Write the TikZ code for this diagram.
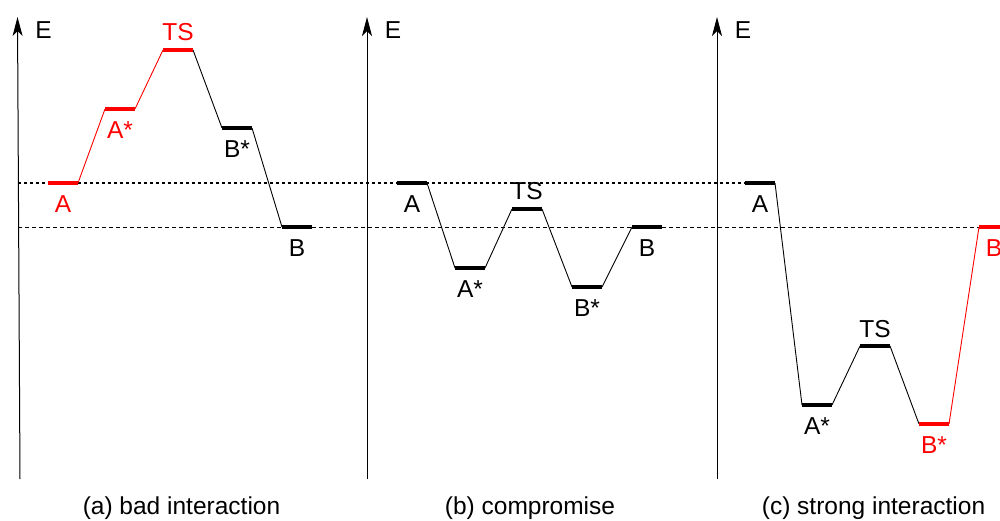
\documentclass[tikz,border=0pt]{standalone}
\usepackage{fontspec}
\setmainfont{Liberation Sans}
\usetikzlibrary{arrows.meta, positioning}
\tikzset{
  asse/.style={line width=1pt,-{Stealth[length=19pt,width=10pt,inset=5pt]}},
  livello/.style={line width=4pt},
  raccordo/.style={line width=0.9pt},
  rifalto/.style={line width=1.2pt,dash pattern=on 3pt off 3pt},
  rifbasso/.style={line width=0.8pt,dash pattern=on 4pt off 3pt},
  etichetta/.style={font=\fontsize{24.5}{29}\selectfont,inner sep=0pt}
}

\begin{document}
\begin{tikzpicture}[x=1pt,y=-1pt]
\clip (0,0) rectangle (1000,521);

% livelli: estremi delle barre
\foreach \n/\x/\y in {
  aA/48/183, aAs/105/109, aTS/163/50, aBs/222/128, aB/282/227,
  bA/397/183, bAs/455/268, bTS/512/209, bBs/572/287, bB/632/227,
  cA/745/183, cAs/802/405, cTS/860/346, cBs/919/424, cB/979/227}{
  \coordinate (\n-l) at (\x,\y);
  \coordinate (\n-r) at (\x+30,\y);
}

% linee di riferimento tratteggiate
\coordinate (rifA) at (18,183);
\coordinate (rifB) at (18,227);
\draw[rifalto] (rifA) -- (cA-l);
\draw[rifbasso] (rifB) -- (cB-l);

% assi dell'energia
\foreach \n/\xb/\xt in {a/20/17.5, b/367/367, c/717/717}{
  \coordinate (\n-base) at (\xb,479);
  \coordinate (\n-cima) at (\xt,17);
  \draw[asse] (\n-base) -- (\n-cima);
  \node[etichetta] (\n-E) at (\xt+26,30.5) {E};
}

% raccordi tra i livelli
\foreach \a/\b/\c in {
  aA/aAs/red, aAs/aTS/red, aTS/aBs/black, aBs/aB/black,
  bA/bAs/black, bAs/bTS/black, bTS/bBs/black, bBs/bB/black,
  cA/cAs/black, cAs/cTS/black, cTS/cBs/black, cBs/cB/red}{
  \draw[raccordo,\c] (\a-r) -- (\b-l);
}

% barre dei livelli con etichetta
\foreach \n/\x/\y/\t/\d/\c in {
  aA/48/183/A/21/red, aAs/105/109/A*/21/red, aTS/163/50/TS/-18/red,
  aBs/222/128/B*/21/black, aB/282/227/B/21/black,
  bA/397/183/A/21/black, bAs/455/268/A*/21/black, bTS/512/209/TS/-17.5/black,
  bBs/572/287/B*/21/black, bB/632/227/B/21/black,
  cA/745/183/A/21/black, cAs/802/405/A*/21/black, cTS/860/346/TS/-17/black,
  cBs/919/424/B*/21.5/red, cB/979/227/B/21/red}{
  \draw[livello,\c] (\n-l) -- (\n-r);
  \node[etichetta,text=\c] (\n-t) at (\x+15,\y+\d) {\t};
}

% didascalie
\node[etichetta] (didA) at (181.5,508) {(a) bad interaction};
\node[etichetta] (didB) at (530,508) {(b) compromise};
\node[etichetta] (didC) at (873.5,508) {(c) strong interaction};

\end{tikzpicture}
\end{document}
